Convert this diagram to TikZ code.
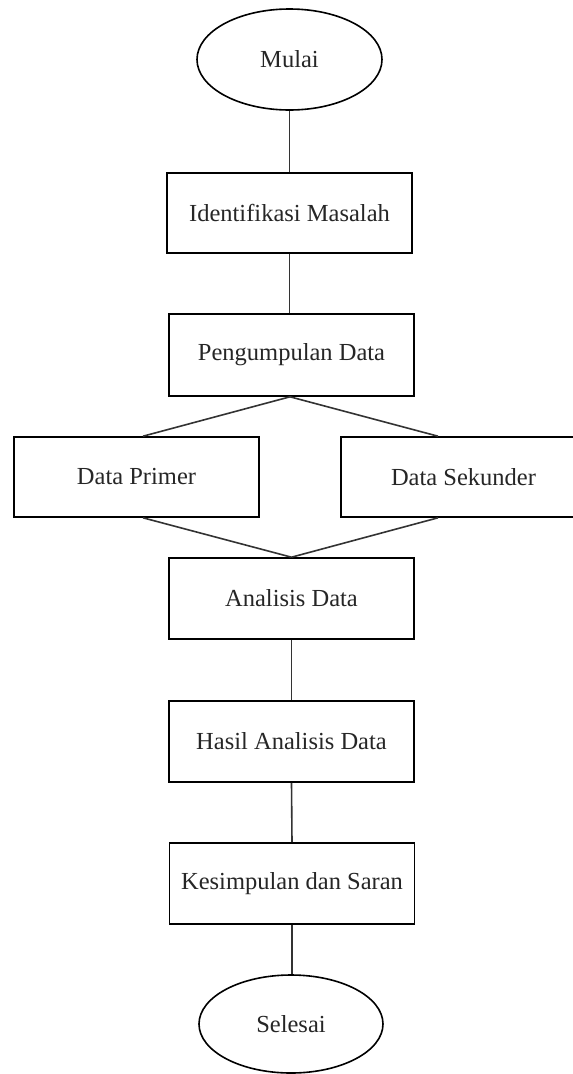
\documentclass[tikz,border=0pt]{standalone}
\usepackage{fontspec}
\setmainfont{Liberation Serif}
\usetikzlibrary{shapes.geometric}
\begin{document}
\begin{tikzpicture}[x=1pt,y=-1pt,
  every node/.style={font=\fontsize{24.5}{29}\selectfont, text=black!85},
  terminal/.style={draw, ellipse, line width=1.6pt, inner sep=0pt},
  process/.style={draw, rectangle, line width=1.6pt, inner sep=0pt,
                  minimum width=245pt},
  link/.style={line width=1.6pt, draw=black!80}]
  \useasboundingbox (0,0) rectangle (573,1074);

  \node[terminal, minimum width=185pt, minimum height=101pt] (mulai) at (289.5,59.5) {Mulai};
  \node[process, minimum height=80pt] (ident) at (289.5,213) {Identifikasi Masalah};
  \node[process, minimum height=82pt] (kumpul) at (291.5,355) {Pengumpulan Data};
  \node[process, minimum height=80pt] (primer) at (136.5,477) {Data Primer};
  \node[process, minimum height=80pt] (sekunder) at (463.5,477) {Data Sekunder};
  \node[process, minimum height=81pt] (analisis) at (291.5,598.5) {Analisis Data};
  \node[process, minimum height=81pt] (hasil) at (291.5,741.5) {Hasil Analisis Data};
  \node[process, minimum height=81pt] (simpul) at (292,883.5) {Kesimpulan dan Saran};
  \node[terminal, minimum width=184pt, minimum height=98pt] (selesai) at (291,1024) {Selesai};

  \draw[link] (mulai.south) -- (mulai.south |- ident.north);
  \draw[link] (ident.south) -- (ident.south |- kumpul.north);
  \draw[link] ([xshift=-1.5pt]kumpul.south) -- ([xshift=6.5pt]primer.north);
  \draw[link] ([xshift=-1.5pt]kumpul.south) -- ([xshift=-25.5pt]sekunder.north);
  \draw[link] ([xshift=6.5pt]primer.south) -- (analisis.north);
  \draw[link] ([xshift=-25.5pt]sekunder.south) -- (analisis.north);
  \draw[link] (analisis.south) -- (hasil.north);
  \draw[link] (hasil.south) -- (simpul.north);
  \draw[link] (simpul.south) -- (simpul.south |- selesai.north);
\end{tikzpicture}
\end{document}
